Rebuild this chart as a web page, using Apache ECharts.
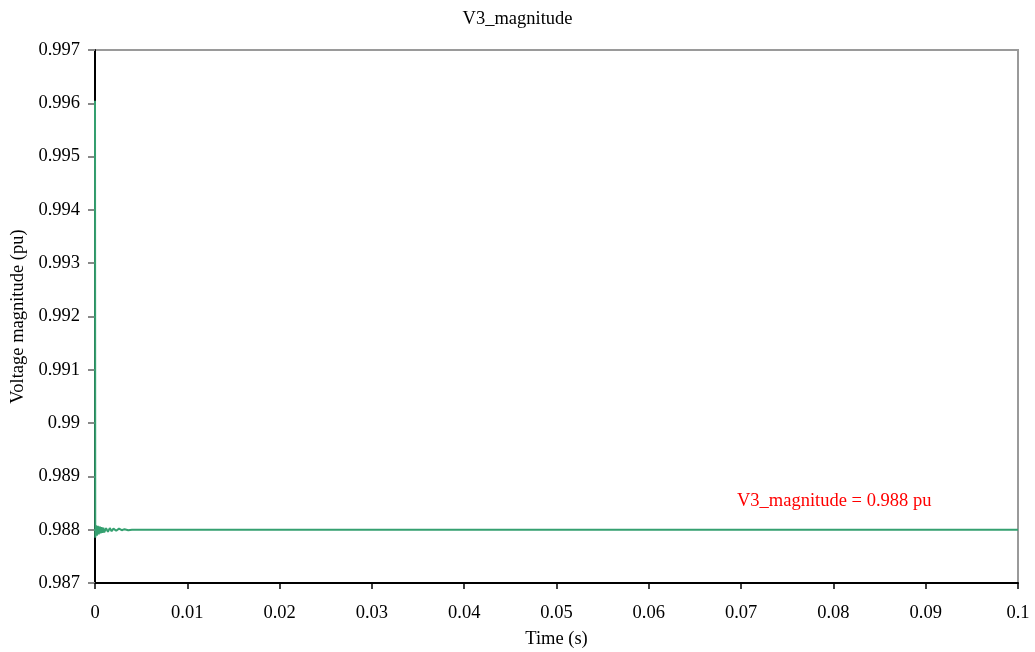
<!DOCTYPE html>
<html>
<head>
<meta charset="utf-8">
<script src="https://cdn.jsdelivr.net/npm/echarts@6/dist/echarts.min.js"></script>
<style>
  html, body { margin: 0; padding: 0; background: #fff; }
  #chart { width: 1035px; height: 652px; }
</style>
</head>
<body>
<div id="chart"></div>
<script>
// time (s) and V3 magnitude (pu)
const times = [
  0, 0.00003, 0.0001, 0.0002, 0.0003, 0.0004, 0.0005, 0.0006, 0.0007, 0.0008,
  0.0009, 0.0010, 0.0012, 0.0014, 0.0016, 0.0018, 0.0020, 0.0023, 0.0026, 0.0029,
  0.0032, 0.0036, 0.0040, 0.1
];
const magnitude = [
  0.99605, 0.98785, 0.98808, 0.98789, 0.98807, 0.98791, 0.98806, 0.98793, 0.98805, 0.98794,
  0.98804, 0.98795, 0.98803, 0.98796, 0.98803, 0.98797, 0.98802, 0.98798, 0.98802, 0.98799,
  0.98801, 0.98799, 0.98800, 0.98800
];
const annotation = "V3_magnitude = 0.988 pu";

const font = "'Liberation Serif', 'Times New Roman', serif";
const fs = 18.5;
const chart = echarts.init(document.getElementById("chart"));

chart.setOption({
  animation: false,
  title: {
    text: "V3_magnitude",
    left: "center",
    top: 5,
    textStyle: { fontFamily: font, fontSize: fs, fontWeight: "normal", color: "#000" }
  },
  grid: {
    left: 95, right: 17, top: 50, bottom: 69,
    outerBoundsMode: "none",
    containLabel: false,
    show: true, borderColor: "#9a9a9a", borderWidth: 2, backgroundColor: "#fff"
  },
  xAxis: {
    type: "value",
    min: 0, max: 0.1, interval: 0.01,
    name: "Time (s)",
    nameLocation: "middle",
    nameGap: 47,
    nameTextStyle: { fontFamily: font, fontSize: fs, color: "#000" },
    axisLine: { lineStyle: { color: "#000", width: 2 } },
    axisTick: { inside: false, length: 6, lineStyle: { color: "#000", width: 1.5 } },
    axisLabel: {
      fontFamily: font, fontSize: fs, color: "#000", margin: 21,
      formatter: (v) => String(+v.toFixed(2))
    },
    splitLine: { show: false }
  },
  yAxis: {
    type: "value",
    min: 0.987, max: 0.997, interval: 0.001,
    name: "Voltage magnitude (pu)",
    nameLocation: "middle",
    nameGap: 66,
    nameTextStyle: { fontFamily: font, fontSize: fs, color: "#000" },
    axisLine: { show: true, lineStyle: { color: "#000", width: 2 } },
    axisTick: { show: true, inside: false, length: 7, lineStyle: { color: "#888", width: 2 } },
    axisLabel: {
      fontFamily: font, fontSize: fs, color: "#000", margin: 15,
      formatter: (v) => String(+v.toFixed(3))
    },
    splitLine: { show: false }
  },
  series: [
    {
      name: "V3_magnitude",
      type: "line",
      showSymbol: false,
      symbol: "none",
      clip: true,
      lineStyle: { color: "#35a070", width: 2 },
      data: times.map((t, i) => [t, magnitude[i]]),
      z: 3
    }
  ],
  graphic: [
    {
      type: "text",
      left: 737,
      top: 492,
      style: { text: annotation, fill: "#ff0000", font: fs + "px " + font }
    }
  ]
});
</script>
</body>
</html>
